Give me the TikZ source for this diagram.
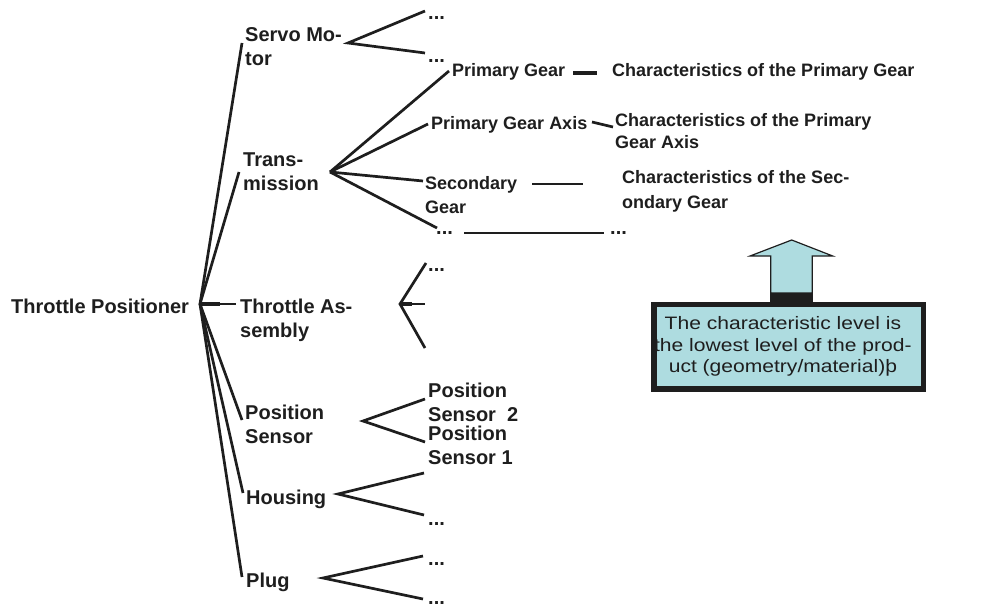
\documentclass[tikz,border=0pt]{standalone}
\usepackage{fontspec}
\setmainfont{Liberation Sans}
\newfontfamily\notefont[FakeStretch=1.17]{Liberation Sans}
\definecolor{ink}{HTML}{1E1E1E}
\definecolor{notefill}{HTML}{AEDCE0}
% two stacked lines, baseline at the first line
\newcommand{\twolines}[2]{\begin{tabular}[t]{@{}l@{}}#1\\#2\end{tabular}}

\begin{document}
\begin{tikzpicture}[x=1pt,y=-1pt,
  lbl/.style={anchor=base west, inner sep=0pt, text=ink,
    font=\bfseries\fontsize{20}{24.5}\selectfont},
  sub/.style={lbl, font=\bfseries\fontsize{18}{24}\selectfont},
  branch/.style={draw=ink, line width=2.7pt},
  notebox/.style={draw=ink, line width=5.5pt, fill=notefill, inner sep=0pt,
    minimum width=268.7pt, minimum height=84.5pt, text=ink,
    font=\notefont\fontsize{18}{21.5}\selectfont},
]
\useasboundingbox (0,0) rectangle (987,607);

% ---- root ----
\node[lbl] (root) at (11,313) {Throttle Positioner};
\coordinate (hub0) at (200,304);

% ---- first level ----
\node[lbl] (servo)   at (245,41.5) {\twolines{Servo Mo-}{tor}};
\node[lbl] (trans)   at (243,166)  {\twolines{Trans-}{mission}};
\node[lbl] (thra)    at (240,313)  {\fontsize{20}{24}\selectfont\twolines{Throttle As-}{sembly}};
\node[lbl] (psens)   at (245,419)  {\fontsize{20}{24}\selectfont\twolines{Position}{Sensor}};
\node[lbl] (housing) at (246,504)  {Housing};
\node[lbl] (plug)    at (246,587)  {Plug};

\coordinate (servo-in)   at (242,43);
\coordinate (trans-in)   at (239,172);
\coordinate (thra-in)    at (236,304);
\coordinate (psens-in)   at (242,420);
\coordinate (housing-in) at (243,493);
\coordinate (plug-in)    at (242,577);

\foreach \c in {servo,trans,thra,psens,housing,plug}
  \draw[branch] (hub0) -- (\c-in);
\draw[branch, line width=3.4pt] (hub0) -- (220,304);

% ---- hubs of the first level ----
\coordinate (hub-servo)   at (348,43);
\coordinate (hub-trans)   at (330,172);
\coordinate (hub-thra)    at (400,304);
\coordinate (hub-psens)   at (363,421);
\coordinate (hub-housing) at (338,494);
\coordinate (hub-plug)    at (323,578);

% ---- servo motor ----
\node[lbl] (sd1) at (428,20)   {...};
\node[lbl] (sd2) at (428,62.5) {...};
\coordinate (sd1-in) at (425,11);
\coordinate (sd2-in) at (425,53);
\draw[branch] (sd1-in) -- (hub-servo) -- (sd2-in);

% ---- transmission ----
\node[sub] (pg)   at (452,77)  {Primary Gear};
\node[sub] (pgc)  at (612,77)  {Characteristics of the Primary Gear};
\node[sub] (pga)  at (431,129) {Primary Gear Axis};
\node[sub, font=\bfseries\fontsize{18}{21.5}\selectfont] (pgac) at (615,127)
  {\twolines{Characteristics of the Primary}{Gear Axis}};
\node[sub] (sg)   at (425,189) {\twolines{Secondary}{Gear}};
\node[sub, font=\bfseries\fontsize{18}{25}\selectfont] (sgc) at (622,183)
  {\twolines{Characteristics of the Sec-}{ondary Gear}};
\node[lbl] (tdl)  at (436,234) {...};
\node[lbl] (tdr)  at (610,234) {...};

\coordinate (pg-in)  at (449,71);
\coordinate (pga-in) at (428,124);
\coordinate (sg-in)  at (423,181);
\coordinate (tdl-in) at (437,228);
\foreach \c in {pg,pga,sg,tdl}
  \draw[branch] (hub-trans) -- (\c-in);

\coordinate (pg-out)   at (573,73);
\coordinate (pgc-in)   at (597,73);
\coordinate (pga-out)  at (592,122);
\coordinate (pgac-in)  at (613,127);
\coordinate (sg-out)   at (532,184);
\coordinate (sgc-in)   at (583,184);
\coordinate (tdl-out)  at (464,233);
\coordinate (tdr-in)   at (604,233);
\draw[branch, line width=4.5pt] (pg-out) -- (pgc-in);
\draw[branch] (pga-out) -- (pgac-in);
\draw[branch] (sg-out) -- (sgc-in);
\draw[branch, line width=2.9pt] (tdl-out) -- (tdr-in);

% ---- throttle assembly ----
\node[lbl] (tad) at (428,271.5) {...};
\coordinate (tad-in) at (426,263);
\coordinate (tam-in) at (425,304);
\coordinate (tal-in) at (425,348);
\draw[branch] (tad-in) -- (hub-thra) -- (tal-in);
\draw[branch] (hub-thra) -- (tam-in);
\draw[branch, line width=3.4pt] (hub-thra) -- (412,304);

% ---- position sensor ----
\node[lbl] (ps2) at (428,397) {\twolines{Position}{Sensor~ 2}};
\node[lbl, font=\bfseries\fontsize{20}{24}\selectfont] (ps1) at (428,440)
  {\twolines{Position}{Sensor 1}};
\coordinate (ps2-in) at (425,399);
\coordinate (ps1-in) at (425,442);
\draw[branch] (ps2-in) -- (hub-psens) -- (ps1-in);

% ---- housing ----
\node[lbl] (hd) at (428,525) {...};
\coordinate (hu-in) at (424,473);
\coordinate (hd-in) at (424,515);
\draw[branch] (hu-in) -- (hub-housing) -- (hd-in);

% ---- plug ----
\node[lbl] (pd1) at (428,565) {...};
\node[lbl] (pd2) at (428,604) {...};
\coordinate (pd1-in) at (423,556);
\coordinate (pd2-in) at (423,599);
\draw[branch] (pd1-in) -- (hub-plug) -- (pd2-in);

% ---- note with upward arrow ----
\draw[ink, line width=1.2pt, fill=notefill, line join=miter]
  (791.7,240) -- (832.7,256) -- (812.3,256) -- (812.3,293)
  -- (770.7,293) -- (770.7,256) -- (750,256) -- cycle;
\fill[ink] (770.1,292.5) rectangle (812.9,302.5);
\node[notebox] (note) at (788.9,346.7)
  {\begin{tabular}{@{}c@{\hspace{12pt}}}The characteristic level is\\
   the lowest level of the prod-\\uct (geometry/material)þ\end{tabular}};
\end{tikzpicture}
\end{document}
